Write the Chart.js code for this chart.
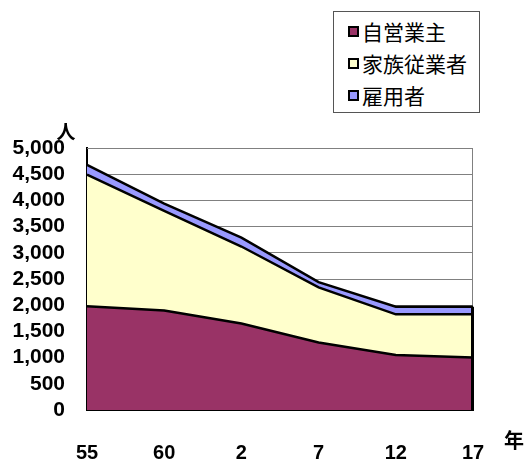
<!DOCTYPE html>
<html>
<head>
<meta charset="utf-8">
<script src="https://cdn.jsdelivr.net/npm/chart.js@4.4.1/dist/chart.umd.min.js"></script>
<style>
  html, body { margin: 0; padding: 0; background: #fff; }
  #wrap { position: relative; width: 528px; height: 460px; }
  #legend {
    position: absolute; left: 333px; top: 11px; width: 147px; height: 102px;
    border: 1px solid #555; background: #fff; box-sizing: border-box;
    font-family: "Noto Sans CJK JP", sans-serif; font-size: 21px; color: #000;
    padding-top: 3px;
  }
  #legend div { height: 32px; line-height: 32px; padding-left: 14px; white-space: nowrap; }
  #legend span.sw {
    display: inline-block; width: 7px; height: 7px; border: 2px solid #000;
    margin-right: 3px; vertical-align: 3px;
  }
</style>
</head>
<body>
<div id="wrap">
  <canvas id="myChart" width="528" height="460"></canvas>
  <div id="legend"></div>
</div>
<script>
// 年 (昭和55年〜平成17年)
let years = ["55", "60", "2", "7", "12", "17"];
let jieigyo = [1980, 1900, 1650, 1290, 1050, 1000];   // 自営業主
let kazoku = [2510, 1900, 1470, 1050, 775, 825];      // 家族従業者
let koyo = [190, 140, 170, 100, 145, 145];            // 雇用者
let seriesNames = ["自営業主", "家族従業者", "雇用者"];
let seriesColors = ['#993366', '#FFFFCC', '#9999FF'];

let tickFont = { family: '"Liberation Sans", Arial, sans-serif', size: 20, weight: 'bold' };
let yFont = { family: '"Liberation Sans", Arial, sans-serif', size: 21, weight: 'bold' };

// frame + black right edge of the filled area + unit labels
let extras = {
    id: 'extras',
    beforeDatasetsDraw(chart) {
        let c = chart.ctx, a = chart.chartArea;
        c.save();
        c.strokeStyle = '#808080';
        c.lineWidth = 1;
        c.beginPath();
        c.moveTo(a.left, a.top + 0.5);
        c.lineTo(a.right - 0.5, a.top + 0.5);
        c.lineTo(a.right - 0.5, a.bottom);
        c.stroke();
        c.restore();
    },
    afterDatasetsDraw(chart) {
        let c = chart.ctx, a = chart.chartArea;
        let pts = chart.getDatasetMeta(2).data;
        let last = pts[pts.length - 1];
        c.save();
        c.strokeStyle = '#000';
        c.lineWidth = 3;
        c.beginPath();
        c.moveTo(last.x - 0.5, last.y);
        c.lineTo(last.x - 0.5, a.bottom);
        c.stroke();
        c.restore();
    },
    afterDraw(chart) {
        let c = chart.ctx, a = chart.chartArea;
        c.save();
        c.fillStyle = '#000';
        c.font = 'bold 19px "Noto Sans CJK JP", sans-serif';
        c.textAlign = 'center';
        c.textBaseline = 'middle';
        c.fillText('人', a.left - 21, a.top - 16);
        c.font = 'bold 20px "Noto Sans CJK JP", sans-serif';
        c.fillText('年', a.right + 41, a.bottom + 30);
        c.restore();
    }
};

let ctx = document.getElementById("myChart").getContext('2d');

let myChart = new Chart(ctx, {
    type: 'line',
    data: {
        labels: years,
        datasets: [{
            label: seriesNames[0],
            data: jieigyo,
            fill: 'origin',
            backgroundColor: seriesColors[0],
            borderColor: '#000',
            borderWidth: 2.5
        }, {
            label: seriesNames[1],
            data: kazoku,
            fill: '-1',
            backgroundColor: seriesColors[1],
            borderColor: '#000',
            borderWidth: 2.5
        }, {
            label: seriesNames[2],
            data: koyo,
            fill: '-1',
            backgroundColor: seriesColors[2],
            borderColor: '#000',
            borderWidth: 2.5
        }]
    },
    options: {
        responsive: false,
        animation: false,
        elements: { point: { radius: 0 }, line: { tension: 0 } },
        layout: { padding: { top: 148, right: 55, left: 0, bottom: 0 } },
        plugins: {
            legend: { display: false },
            tooltip: { enabled: false }
        },
        scales: {
            x: {
                offset: false,
                grid: { drawOnChartArea: false, tickLength: -6, color: '#555' },
                border: { color: '#000', width: 2 },
                ticks: { font: tickFont, color: '#000', padding: 37, maxRotation: 0 },
                afterFit(s) { s.height = 50; }
            },
            y: {
                stacked: true,
                min: 0,
                max: 5000,
                grid: { color: '#808080', lineWidth: 1, drawTicks: false },
                border: { color: '#000', width: 2 },
                ticks: {
                    stepSize: 500,
                    autoSkip: false,
                    font: yFont,
                    color: '#000',
                    padding: 22,
                    callback: v => v.toLocaleString('en-US')
                },
                afterFit(s) { s.width = 87; }
            }
        }
    },
    plugins: [extras]
});

// legend built from the chart's own datasets
let legendEl = document.getElementById('legend');
myChart.data.datasets.forEach(ds => {
    let row = document.createElement('div');
    let sw = document.createElement('span');
    sw.className = 'sw';
    sw.style.background = ds.backgroundColor;
    row.appendChild(sw);
    row.appendChild(document.createTextNode(ds.label));
    legendEl.appendChild(row);
});
</script>
</body>
</html>
